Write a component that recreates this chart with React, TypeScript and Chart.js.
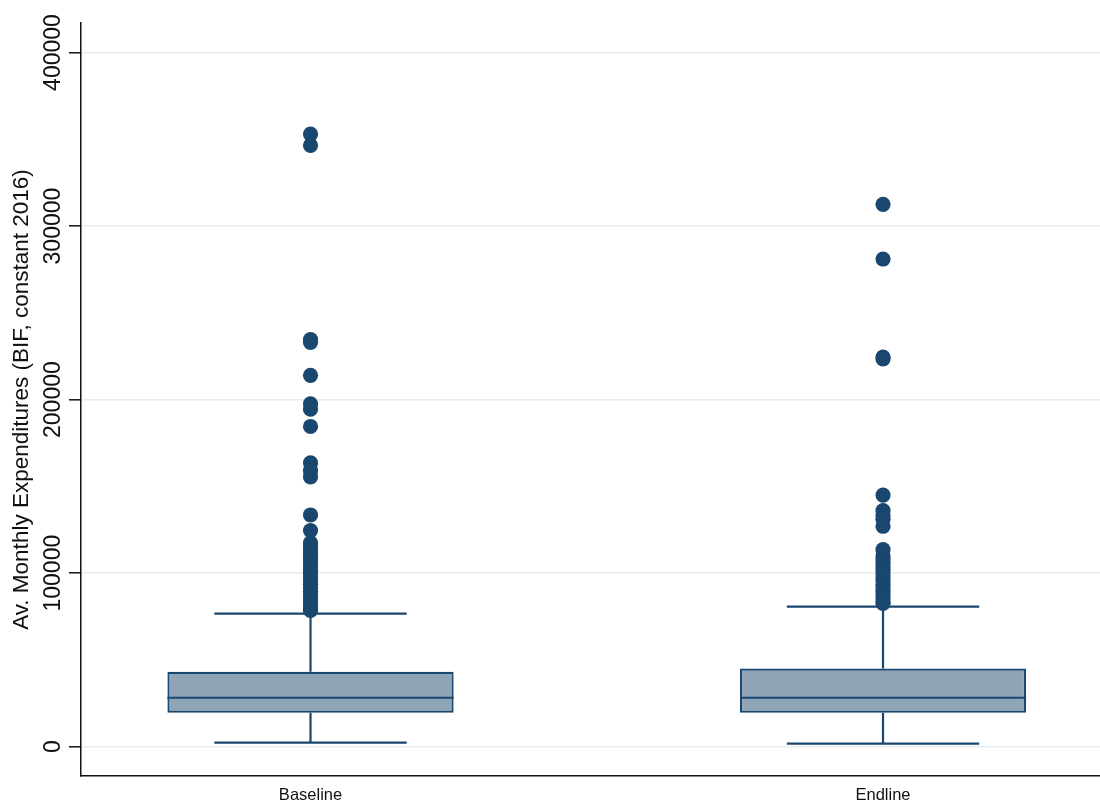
import { useEffect, useRef } from 'react';
import { Chart, registerables } from 'chart.js';

Chart.register(...registerables);

// Groups and their positions along the x axis
const groups = ['Baseline', 'Endline'];
const groupPositions = [1, 2];

// Box-plot summary statistics per group (BIF)
const lowerWhisker = [2300, 1700];
const q1 = [19600, 19600];
const median = [28200, 28200];
const q3 = [43200, 45000];
const upperWhisker = [76700, 80700];

// Outside values per group
const baselineOutliers = [
  353000, 346500, 234500, 233000, 214000, 197500, 194500, 184500, 163500, 159000,
  155500, 133500, 124500, 117500, 115500, 113500, 111500, 109500, 107500, 105500,
  103500, 101500, 99500, 97500, 95500, 93500, 91500, 89500, 87500, 85500, 83500,
  81500, 79500, 78500,
];
const endlineOutliers = [
  312500, 281000, 224500, 223500, 145000, 136000, 133000, 131000, 127000, 113500,
  109500, 107500, 105500, 103500, 101500, 99500, 97500, 95500, 93500, 91500, 89500,
  87500, 85500, 83500, 82500,
];
const outliers = [baselineOutliers, endlineOutliers];

// Axis ticks and title
const yTicks = [0, 100000, 200000, 300000, 400000];
const yTitle = 'Av. Monthly Expenditures (BIF, constant 2016)';

const NAVY = '#1a476f';
const BOX_FILL = '#90a4b8';
const GRID = '#e3eef1';
const INK = '#111111';
const FONT = '"Liberation Sans", Arial, Helvetica, sans-serif';

const BOX_HALF = 0.25;
const CAP_HALF = 0.168;

// Rotated y tick labels (reading upward), placed left of the tick marks
const yTickLabels = {
  id: 'yTickLabels',
  afterDraw(chart: any) {
    const s = chart.scales.y;
    const ctx = chart.ctx;
    const tickLen = s.options.grid.tickLength;
    ctx.save();
    ctx.font = `23px ${FONT}`;
    ctx.fillStyle = INK;
    ctx.textAlign = 'center';
    ctx.textBaseline = 'alphabetic';
    for (const t of s.ticks) {
      const py = s.getPixelForValue(t.value);
      ctx.save();
      ctx.translate(s.right - tickLen - 9, py);
      ctx.rotate(-Math.PI / 2);
      ctx.fillText(String(t.value), 0, 0);
      ctx.restore();
    }
    ctx.restore();
  },
};

export default function App() {
  const ref = useRef<HTMLCanvasElement>(null);

  useEffect(() => {
    if (!ref.current) return;

    const whiskers = groupPositions.flatMap((c, i) => [
      { x: c, y: q3[i] },
      { x: c, y: upperWhisker[i] },
      { x: c, y: null },
      { x: c - CAP_HALF, y: upperWhisker[i] },
      { x: c + CAP_HALF, y: upperWhisker[i] },
      { x: c + CAP_HALF, y: null },
      { x: c, y: q1[i] },
      { x: c, y: lowerWhisker[i] },
      { x: c, y: null },
      { x: c - CAP_HALF, y: lowerWhisker[i] },
      { x: c + CAP_HALF, y: lowerWhisker[i] },
      { x: c + CAP_HALF, y: null },
    ]);

    const medians = groupPositions.flatMap((c, i) => [
      { x: c - BOX_HALF, y: median[i] },
      { x: c + BOX_HALF, y: median[i] },
      { x: c + BOX_HALF, y: null },
    ]);

    const points = groupPositions.flatMap((c, i) => outliers[i].map((v) => ({ x: c, y: v })));

    const chart = new Chart(ref.current, {
      type: 'bar',
      data: {
        datasets: [
          {
            type: 'scatter',
            label: 'outside values',
            data: points,
            pointRadius: 7.6,
            pointHoverRadius: 7.6,
            backgroundColor: NAVY,
            borderWidth: 0,
            order: 0,
          } as any,
          {
            type: 'line',
            label: 'median',
            data: medians,
            borderColor: NAVY,
            borderWidth: 2.2,
            pointRadius: 0,
            spanGaps: false,
            fill: false,
            order: 1,
          } as any,
          {
            type: 'line',
            label: 'whiskers',
            data: whiskers,
            borderColor: NAVY,
            borderWidth: 2.2,
            pointRadius: 0,
            spanGaps: false,
            fill: false,
            order: 2,
          } as any,
          {
            type: 'bar',
            label: 'interquartile range',
            data: groupPositions.map((c, i) => ({ x: c, y: [q1[i], q3[i]] })),
            backgroundColor: BOX_FILL,
            borderColor: NAVY,
            borderWidth: 2.2,
            borderSkipped: false,
            barPercentage: 0.5,
            categoryPercentage: 1,
            order: 3,
          } as any,
        ],
      },
      options: {
        animation: false,
        responsive: false,
        devicePixelRatio: 1,
        layout: { autoPadding: false, padding: { top: 23, right: 0, left: 0, bottom: 0 } },
        plugins: {
          legend: { display: false },
          tooltip: { enabled: false },
        },
        scales: {
          x: {
            type: 'linear',
            offset: false,
            min: 0.5991,
            max: 2.379,
            afterBuildTicks: (s: any) => {
              s.ticks = groupPositions.map((v) => ({ value: v }));
            },
            afterFit: (s: any) => {
              s.height = 26;
              s.paddingLeft = 0;
              s.paddingRight = 0;
            },
            grid: { display: false, drawTicks: false, offset: false },
            border: { display: true, color: INK, width: 1.5 },
            ticks: {
              padding: 10,
              color: INK,
              font: { family: FONT, size: 16.5 },
              maxRotation: 0,
              autoSkip: false,
              callback: (v: any) => groups[groupPositions.indexOf(Number(v))] ?? '',
            },
          },
          y: {
            type: 'linear',
            min: -16900,
            max: 417000,
            afterBuildTicks: (s: any) => {
              s.ticks = yTicks.map((v) => ({ value: v }));
            },
            afterFit: (s: any) => {
              s.width = 81;
            },
            grid: {
              color: GRID,
              lineWidth: 1.6,
              drawTicks: true,
              tickLength: 12,
              tickColor: INK,
              tickWidth: 1.5,
            },
            border: { display: true, color: INK, width: 1.5 },
            ticks: { display: false },
            title: {
              display: true,
              text: yTitle,
              color: INK,
              font: { family: FONT, size: 22.5, lineHeight: 1.2 },
              padding: { top: 8, bottom: 0 },
            },
          },
        },
      },
      plugins: [yTickLabels],
    });

    return () => chart.destroy();
  }, []);

  return (
    <div style={{ position: 'absolute', left: 0, top: 0, width: 1100, height: 802, background: '#fff' }}>
      <canvas ref={ref} width={1100} height={802} />
    </div>
  );
}
